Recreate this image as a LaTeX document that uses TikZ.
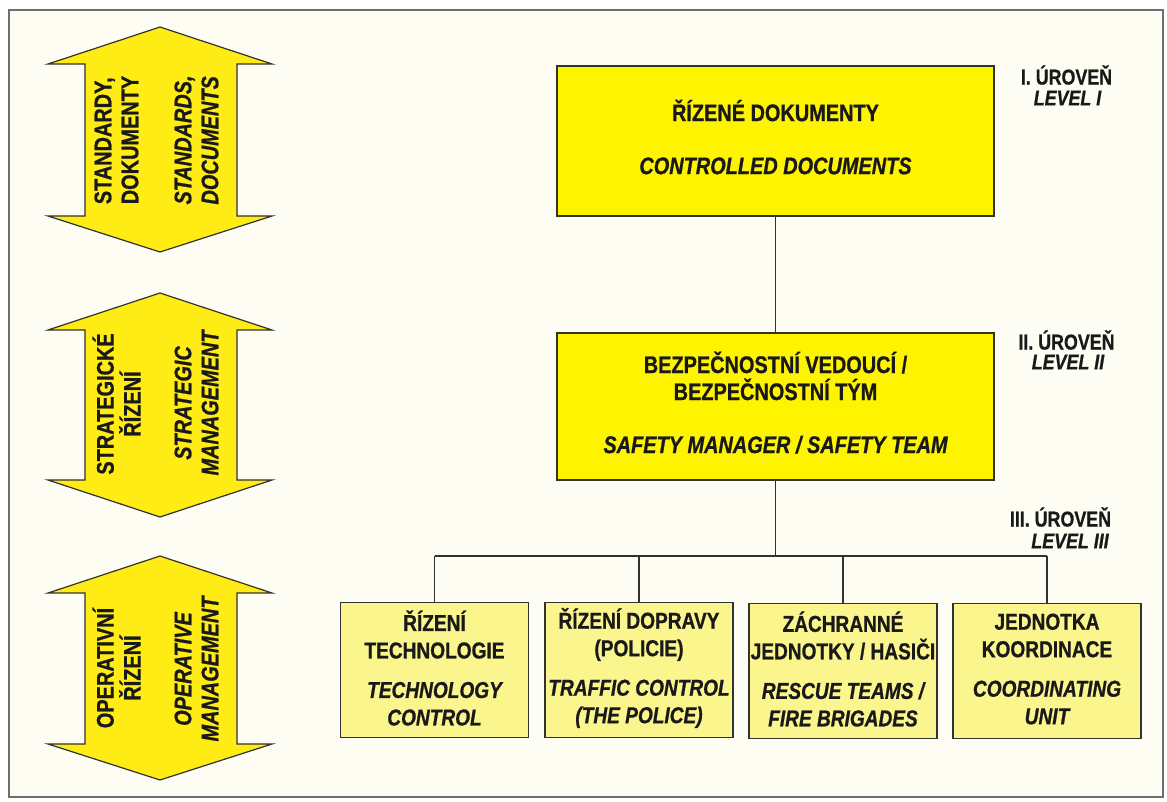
\documentclass[tikz,border=0pt]{standalone}
\usepackage{fontspec}
\setmainfont{Liberation Sans}[FakeStretch=0.83,FakeBold=0.8]
\definecolor{bg}{RGB}{253,253,244}
\definecolor{framec}{RGB}{110,110,110}
\definecolor{linec}{RGB}{50,50,50}
\definecolor{yelA}{RGB}{255,244,0}
\definecolor{yelB}{RGB}{250,245,140}
\definecolor{yelArr}{RGB}{255,236,20}
\definecolor{txt}{RGB}{25,25,25}
\begin{document}
\begin{tikzpicture}[x=1pt,y=-1pt,
  bigbox/.style={draw=linec, line width=1.4pt, fill=yelA, minimum width=437, inner sep=0pt,
    align=center, text=txt, font=\fontsize{24}{27}\selectfont\bfseries},
  smallbox/.style={draw=linec, line width=1.3pt, fill=yelB, minimum width=188, minimum height=135, inner sep=0pt,
    align=center, text=txt, font=\fontsize{23}{27.5}\selectfont\bfseries},
  levellab/.style={text=txt, inner sep=0pt, font=\fontsize{21.5}{24}\selectfont\bfseries},
  arrtext/.style={rotate=90, text=txt, inner sep=0pt, font=\fontsize{24}{27}\selectfont\bfseries},
  dblarrow/.style={draw=linec, line width=1.2pt, fill=yelArr, line join=miter},
  conn/.style={draw=linec, line width=1.2pt}]
\useasboundingbox (0,0) rectangle (1167,801);
\fill[white] (0,0) rectangle (1167,801);
\draw[framec, line width=1.5pt, fill=bg] (9,10) rectangle (1163,797);

% left double arrows
\foreach \t/\s/\b/\e in {27/64/216/252, 293/330/480/517, 556/593/744/780}{
  \draw[dblarrow] (160,\t) -- (272,\s) -- (237,\s) -- (237,\b) -- (272,\b) -- (160,\e)
    -- (48,\b) -- (85,\b) -- (85,\s) -- (48,\s) -- cycle;
}
\node[arrtext, align=left] (a1cz) at (116.5,140) {STANDARDY,\\DOKUMENTY};
\node[arrtext, align=left] (a1en) at (196.5,140) {\itshape STANDARDS,\\\itshape DOCUMENTS};
\node[arrtext, align=center] (a2cz) at (116.5,404) {STRATEGICKÉ\\ŘÍZENÍ};
\node[arrtext, align=center] (a2en) at (196.5,403) {\itshape STRATEGIC\\\itshape MANAGEMENT};
\node[arrtext, align=center] (a3cz) at (116.5,668) {OPERATIVNÍ\\ŘÍZENÍ};
\node[arrtext, align=center] (a3en) at (196.5,669) {\itshape OPERATIVE\\\itshape MANAGEMENT};

% main boxes
\node[bigbox, minimum height=150] (doc) at (775.5,141) {};
\node[bigbox, fill=none, draw=none, minimum height=0pt] (doct) at (775.5,137)
  {ŘÍZENÉ DOKUMENTY\\[26pt]\itshape CONTROLLED DOCUMENTS};
\node[bigbox, minimum height=147] (mgr) at (775.5,406.5) {};
\node[bigbox, fill=none, draw=none, minimum height=0pt] (mgrt) at (775.5,402.5)
  {BEZPEČNOSTNÍ VEDOUCÍ /\\BEZPEČNOSTNÍ TÝM\\[26pt]\itshape SAFETY MANAGER / SAFETY TEAM};

% bottom boxes
\foreach \n/\x/\y in {b1/434.5/670, b2/639/670, b3/843/671, b4/1047/671}{
  \node[smallbox] (\n) at (\x,\y) {};
}
\node[smallbox, fill=none, draw=none, minimum height=0pt] (b1t) at (434.5,668) {ŘÍZENÍ\\TECHNOLOGIE\\[12pt]\itshape TECHNOLOGY\\\itshape CONTROL};
\node[smallbox, fill=none, draw=none, minimum height=0pt] (b2t) at (639,668) {ŘÍZENÍ DOPRAVY\\(POLICIE)\\[12pt]\itshape TRAFFIC CONTROL\\\itshape (THE POLICE)};
\node[smallbox, fill=none, draw=none, minimum height=0pt] (b3t) at (843,669) {ZÁCHRANNÉ\\JEDNOTKY / HASIČI\\[12pt]\itshape RESCUE TEAMS /\\\itshape FIRE BRIGADES};
\node[smallbox, fill=none, draw=none, minimum height=0pt] (b4t) at (1047,669) {JEDNOTKA\\KOORDINACE\\[12pt]\itshape COORDINATING\\\itshape UNIT};

% level labels
\node[levellab] (l1a) at (1066.5,75) {I. ÚROVEŇ};
\node[levellab] (l1b) at (1067.5,98) {\itshape LEVEL I};
\node[levellab] (l2a) at (1066.5,340) {II. ÚROVEŇ};
\node[levellab] (l2b) at (1068,362) {\itshape LEVEL II};
\node[levellab] (l3a) at (1060.5,517) {III. ÚROVEŇ};
\node[levellab] (l3b) at (1070,541) {\itshape LEVEL III};

% connectors
\coordinate (bus) at (775.5,556);
\draw[conn] (doc.south) -- (mgr.north);
\draw[conn] (mgr.south) -- (bus);
\draw[conn] (b1.north |- bus) -- (b4.north |- bus);
\foreach \n in {b1,b2,b3,b4}{ \draw[conn] (\n.north) -- (\n.north |- bus); }
\end{tikzpicture}
\end{document}
